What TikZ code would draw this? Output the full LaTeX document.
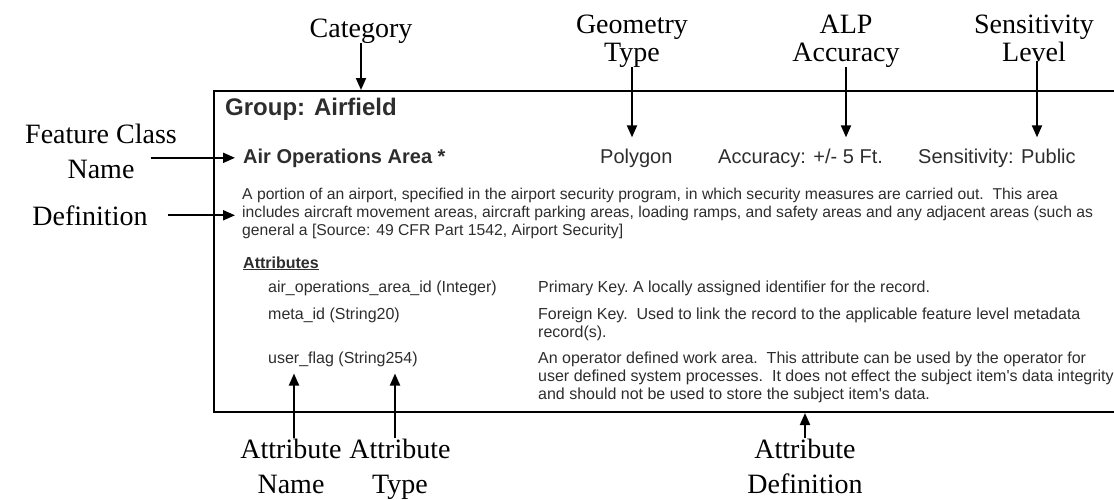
\documentclass[tikz,border=0pt]{standalone}
\usepackage{fontspec}
\setmainfont{Liberation Serif}
\newfontfamily\arialfont{Liberation Sans}
\usepackage{xcolor}
\usetikzlibrary{arrows.meta}
\definecolor{bodygray}{RGB}{45,45,45}

\begin{document}
\begin{tikzpicture}[x=1pt, y=-1pt,
  lbl/.style={font=\fontsize{28}{35}\selectfont, align=center, inner sep=0pt, anchor=base},
  toplbl/.style={lbl, font=\fontsize{28}{28}\selectfont},
  body/.style={font=\arialfont\fontsize{16}{18}\selectfont, text=bodygray, align=left, inner sep=0pt, anchor=base west},
  head/.style={body, font=\arialfont\fontsize{20}{20}\selectfont},
  arr/.style={-{Triangle[length=12pt,width=10pt]}, line width=2pt}]

\useasboundingbox (0,0) rectangle (1114,499);
\clip (0,0) rectangle (1114,499);

% the data dictionary entry
\node[draw, line width=2pt, minimum width=960pt, minimum height=321pt, anchor=north west, inner sep=0pt] (grp) at (213,90) {};

\node[head, font=\arialfont\bfseries\fontsize{24}{24}\selectfont] (grpname) at (225,115) {Group: Airfield};
\node[head, font=\arialfont\bfseries\fontsize{20}{20}\selectfont] (aoa) at (243,163) {Air Operations Area *};
\node[head] (poly) at (600,163) {Polygon};
\node[head] (acc) at (718,163) {Accuracy: +/- 5 Ft.};
\node[head] (sens) at (918,163) {Sensitivity: Public};

% anchor base = last line
\node[body, font=\arialfont\fontsize{15.7}{17.6}\selectfont] (para) at (242,235) {A portion of an airport, specified in the airport security program, in which security measures are carried out.\ \ This area\\
includes aircraft movement areas, aircraft parking areas, loading ramps, and safety areas and any adjacent areas (such as\\
general a [Source: 49 CFR Part 1542, Airport Security]};

\node[body, font=\arialfont\bfseries\fontsize{16}{18}\selectfont] (attrhd) at (243,268) {\underline{Attributes}};

\node[body] (aoaid) at (268,292) {air\_operations\_area\_id (Integer)};
\node[body] (metaid) at (268,319) {meta\_id (String20)};
\node[body] (uflag) at (268,363) {user\_flag (String254)};

\node[body] (pkdef) at (538,292) {Primary Key.\ A locally assigned identifier for the record.};
\node[body] (fkdef) at (538,337) {Foreign Key.\ \ Used to link the record to the applicable feature level metadata\\record(s).};
\node[body] (ufdef) at (538,399) {An operator defined work area.\ \ This attribute can be used by the operator for\\
user defined system processes.\ \ It does not effect the subject item's data integrity\\
and should not be used to store the subject item's data.};

% callouts
\node[lbl] (cat) at (361,37) {Category};
\node[toplbl] (geo) at (632,61) {Geometry\\Type};
\node[toplbl] (alp) at (846,61) {ALP\\Accuracy};
\node[toplbl] (senslbl) at (1034,61) {Sensitivity\\Level};
\node[lbl] (fcn) at (101,178) {Feature Class\\Name};
\node[lbl] (defn) at (90,225) {Definition};
\node[lbl] (aname) at (291,493) {Attribute\\Name};
\node[lbl] (atype) at (400,493) {Attribute\\Type};
\node[lbl] (adef) at (805,493) {Attribute\\Definition};

\draw[arr] (cat) -- (cat |- grp.north);
\draw[arr] (geo) -- ([yshift=11pt]geo |- poly.north);
\draw[arr] (alp) -- ([yshift=11pt]alp |- acc.north);
\draw[arr] ([xshift=3pt]senslbl.south) -- ([xshift=3pt,yshift=11pt]senslbl |- sens.north);

\draw[arr] ([xshift=-26pt]fcn.east |- aoa.west) -- ([xshift=-8pt]aoa.west);
\draw[arr] ([xshift=20pt]defn.east) -- ([xshift=-7pt]defn.east -| para.west);

\draw[arr] ([xshift=3pt]aname.north) -- ([xshift=3pt,yshift=-7pt]aname.north |- uflag.south);
\draw[arr] ([xshift=-5pt]atype.north) -- ([xshift=-5pt,yshift=-7pt]atype.north |- uflag.south);
\draw[arr] (adef.north) -- (adef.north |- grp.south);

\end{tikzpicture}
\end{document}
